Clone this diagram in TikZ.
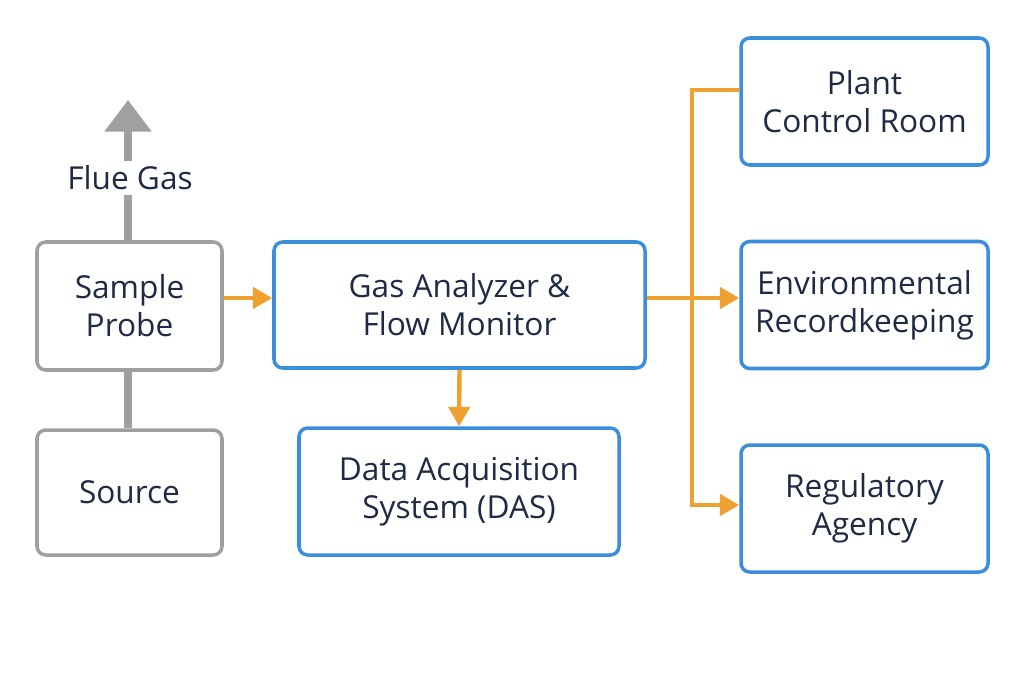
\documentclass[tikz,border=0pt]{standalone}
\usepackage{fontspec}
\setmainfont{Open Sans}
\usetikzlibrary{arrows.meta}
\definecolor{boxblue}{HTML}{3A8EDB}
\definecolor{boxgray}{HTML}{A0A0A0}
\definecolor{flow}{HTML}{F0A030}
\definecolor{ink}{HTML}{1F2A44}
\begin{document}
\begin{tikzpicture}[x=0.02cm,y=-0.02cm,line width=2pt]
 	\tikzstyle{b-node}=[draw=boxblue,rounded corners=5pt,align=center,text=ink,font=\fontsize{18}{21.5}\selectfont,inner sep=0pt]
 	\tikzstyle{g-node}=[b-node,draw=boxgray]
 	\tikzstyle{o-line}=[draw=flow,line width=2.5pt]
 	\tikzstyle{o-arrow}=[o-line,-{Triangle[length=11pt,width=12pt]}]
 	\useasboundingbox (0,0) rectangle (1024,683);
 	% left column
 	\node[g-node,minimum width=185*0.02cm,minimum height=125*0.02cm] (src) at (129.5,492.5) {Source};
 	\node[g-node,minimum width=185*0.02cm,minimum height=128*0.02cm] (probe) at (129.5,306) {Sample\\Probe};
 	\node[text=ink,fill=white,font=\fontsize{18}{21.5}\selectfont,inner sep=2pt] (flue) at (130,178) {Flue Gas};
 	\coordinate (top) at (128,100);
 	% middle
 	\node[b-node,minimum width=371*0.02cm,minimum height=126*0.02cm] (gas) at (459.5,305) {Gas Analyzer \&\\Flow Monitor};
 	\node[b-node,minimum width=320*0.02cm,minimum height=127*0.02cm] (das) at (459,491.5) {Data Acquisition\\System (DAS)};
 	% right column
 	\node[b-node,minimum width=247*0.02cm,minimum height=127*0.02cm] (plant) at (864.5,101.5) {Plant\\Control Room};
 	\node[b-node,minimum width=247*0.02cm,minimum height=127*0.02cm] (env) at (864.5,305) {Environmental\\Recordkeeping};
 	\node[b-node,minimum width=247*0.02cm,minimum height=127*0.02cm] (reg) at (864.5,508.5) {Regulatory\\Agency};
 	\coordinate (trunk) at (692,298);
 	% connectors
 	\draw[boxgray,line width=4pt] (src.north -| 128,0) -- (probe.south -| 128,0);
 	\draw[boxgray,line width=4pt] (probe.north -| 128,0) -- (flue.south -| 128,0);
 	\draw[boxgray,line width=4pt,-{Triangle[length=18pt,width=26pt]}] (flue.north -| 128,0) -- (top);
 	\draw[o-arrow] (probe.east |- 0,298) -- (gas.west |- 0,298);
 	\draw[o-arrow] (gas.south) -- (das.north);
 	\draw[o-arrow] (gas.east |- 0,298) -- (env.west |- 0,298);
 	\draw[o-line] (plant.west |- 0,90) -| (trunk);
 	\draw[o-arrow] (trunk) |- (reg.west |- 0,505);
\end{tikzpicture}
\end{document}
